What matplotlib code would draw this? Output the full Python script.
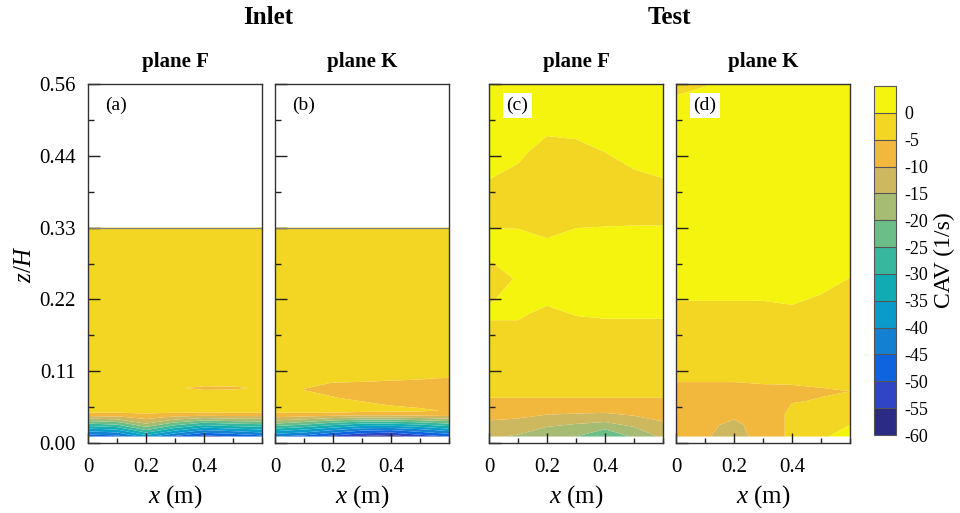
import matplotlib
matplotlib.use('Agg')
import matplotlib.pyplot as plt
import numpy as np
from matplotlib.ticker import FixedLocator, MultipleLocator, FuncFormatter

plt.rcParams['font.family'] = ['Liberation Serif', 'DejaVu Serif']
plt.rcParams['mathtext.fontset'] = 'custom'
plt.rcParams['mathtext.rm'] = 'Liberation Serif'
plt.rcParams['mathtext.it'] = 'Liberation Serif:italic'

# CAV levels (1/s) and band colours
levels = [-60, -55, -50, -45, -40, -35, -30, -25, -20, -15, -10, -5, 0, 5]
band_colors = ['#2B2B85', '#2F45C5', '#0E63DE', '#1480D2', '#0A9BCB', '#10ABB3',
               '#37B89E', '#6CBE89', '#A5BC72', '#CDB860', '#F2B83E', '#F3D523',
               '#F4F40E']

x_pts = [0, 0.1, 0.2, 0.3, 0.4, 0.5, 0.6]

# (a) Inlet, plane F
z_a = [0.01, 0.02, 0.03, 0.04, 0.045, 0.05, 0.075, 0.085, 0.095, 0.2, 1 / 3]
cav_a = [
    [-48, -47, -38, -46, -52, -50, -47],
    [-38, -36, -25, -34, -40, -38, -36],
    [-25, -23, -15, -22, -27, -25, -24],
    [-12, -11, -8, -11, -13, -12, -12],
    [-6, -6, -5.2, -6, -6, -6, -6],
    [-3.5, -3.5, -3.5, -3.5, -3.5, -3.5, -3.5],
    [-3, -3, -3, -3, -3, -3, -3],
    [-3, -3, -3, -4.6, -5.8, -5.6, -4.5],
    [-3, -3, -3, -3, -3, -3, -3],
    [-2.5, -2.5, -2.5, -2.5, -2.5, -2.5, -2.5],
    [-2.5, -2.5, -2.5, -2.5, -2.5, -2.5, -2.5],
]

# (b) Inlet, plane K
z_b = [0.01, 0.02, 0.03, 0.04, 0.045, 0.05, 0.06, 0.07, 0.083, 0.093, 0.1, 0.11,
       0.2, 1 / 3]
cav_b = [
    [-45, -47, -52, -56, -58, -53, -50],
    [-33, -36, -40, -44, -45, -42, -38],
    [-20, -23, -27, -30, -30, -28, -25],
    [-10, -11, -13, -14, -14, -13, -12],
    [-6, -6, -6, -7, -7, -6.5, -6.5],
    [-3.5, -3.5, -3.5, -3.8, -4.2, -4.6, -5.2],
    [-3.5, -3.5, -4, -4.6, -5.2, -5.6, -6],
    [-3.5, -4, -4.9, -5.5, -5.8, -6, -6],
    [-3.5, -5.1, -5.6, -5.8, -6, -6, -6],
    [-3, -4, -5.1, -5.3, -5.5, -5.6, -5.6],
    [-3, -3, -3.5, -4, -4.5, -4.8, -5.2],
    [-3, -3, -3, -3, -3, -3, -3],
    [-2.5, -2.5, -2.5, -2.5, -2.5, -2.5, -2.5],
    [-2.5, -2.5, -2.5, -2.5, -2.5, -2.5, -2.5],
]

# (c) Test, plane F
z_c = [0.01, 0.025, 0.04, 0.06, 0.08, 0.12, 0.18, 0.2, 0.22, 0.254, 0.28, 0.31,
       0.34, 0.37, 0.41, 0.45, 0.5, 5 / 9]
cav_c = [
    [-14.5, -15.5, -17, -20, -26, -19, -14],
    [-12, -13, -15, -16.5, -18, -15, -12],
    [-9, -9.5, -11, -11.5, -12, -10.5, -8.5],
    [-6, -6, -6, -6, -6, -6, -6],
    [-4, -4, -4, -4, -4, -4, -4],
    [-2.5, -2.5, -2.5, -2.5, -2.5, -2.5, -2.5],
    [-0.5, -0.5, -1.5, -1, -0.8, -0.8, -0.8],
    [0.5, 0.5, -0.8, 0.2, 0.5, 0.5, 0.5],
    [-0.2, 1, 0.5, 1.5, 1.5, 1.5, 1.5],
    [-1.5, 0.3, 2, 2, 2, 2, 2],
    [-0.2, 1.5, 2, 2, 2, 2, 2],
    [1.5, 1.5, 0.3, 1.5, 1.5, 1.5, 1.5],
    [-0.5, -0.6, -1, -0.5, -0.3, -0.2, -0.2],
    [-2, -2, -2.5, -2.5, -2, -2, -2],
    [0.1, -1, -2, -2, -1.5, -0.5, 0.0],
    [1.5, 0.8, -1.5, -1, 0.0, 1, 1.5],
    [1.5, 1.5, 1.5, 1.5, 1.5, 1.5, 1.5],
    [2, 2, 2, 2, 2, 2, 2],
]

# (d) Test, plane K
z_d = [0.01, 0.028, 0.045, 0.065, 0.08, 0.1, 0.14, 0.2, 0.26, 0.3, 0.52, 5 / 9]
cav_d = [
    [-8, -9.5, -12, -8, -4, -0.5, 1.5],
    [-8, -9, -11, -8, -4, -2, 0],
    [-8, -8, -9, -8, -4, -3, -2],
    [-7, -7, -7, -7, -5.2, -4.8, -4.8],
    [-5.5, -5.5, -5.5, -5.5, -5.5, -5.3, -5.0],
    [-4.8, -4.8, -4.8, -4.6, -4.5, -4.2, -3.8],
    [-2.5, -2.5, -2.5, -2.5, -2.5, -2.5, -2.5],
    [-0.5, -0.5, -0.5, -0.5, -0.3, -0.8, -1.5],
    [1, 1, 1, 1, 1, 0.8, 0.1],
    [1.5, 1.5, 1.5, 1.5, 1.5, 1.5, 2],
    [0.5, 1.5, 2, 2, 2, 2, 2],
    [-0.5, -0.2, 1.5, 2, 2, 2, 2],
]

panels = [
    ('(a)', 'plane F', z_a, cav_a, True),
    ('(b)', 'plane K', z_b, cav_b, True),
    ('(c)', 'plane F', z_c, cav_c, False),
    ('(d)', 'plane K', z_d, cav_d, False),
]

y_ticks = [0, 1 / 9, 2 / 9, 3 / 9, 4 / 9, 5 / 9]
y_minor = [1 / 18, 3 / 18, 5 / 18, 7 / 18, 9 / 18]

fig = plt.figure(figsize=(9.6, 5.13), dpi=100)
lefts = [88, 275, 489, 676]

for i, (tag, plane, zz, vals, inlet) in enumerate(panels):
    ax = fig.add_axes([lefts[i] / 960, 1 - 443 / 513, 174 / 960, 359 / 513])
    cs = ax.contourf(x_pts, zz, np.array(vals), levels=levels, colors=band_colors,
                     antialiased=True)
    if inlet:
        ax.axhline(zz[-1], color='#808080', lw=0.9)
    ax.set_xlim(0, 0.6)
    ax.set_ylim(0, 5 / 9)
    ax.xaxis.set_major_locator(FixedLocator([0, 0.2, 0.4]))
    ax.xaxis.set_minor_locator(MultipleLocator(0.1))
    ax.xaxis.set_major_formatter(FuncFormatter(lambda v, p: '%g' % round(v, 2)))
    ax.yaxis.set_major_locator(FixedLocator(y_ticks))
    ax.yaxis.set_minor_locator(FixedLocator(y_minor))
    ax.tick_params(axis='both', which='both', direction='in', color='#222222',
                   labelsize=15, width=1)
    ax.tick_params(axis='y', which='major', length=8.5, pad=9)
    ax.tick_params(axis='y', which='minor', length=4.5)
    ax.tick_params(axis='x', which='major', length=7, pad=11)
    ax.tick_params(axis='x', which='minor', length=3.5)
    for s in ax.spines.values():
        s.set_color('#333333')
        s.set_linewidth(1)
    if i == 0:
        ax.yaxis.set_major_formatter(FuncFormatter(lambda v, p: '%.2f' % v))
        ax.set_ylabel('$z/H$', fontsize=18, labelpad=2)
    else:
        ax.set_yticklabels([])
    ax.set_xlabel('$x$ (m)', fontsize=18, labelpad=4)
    ax.set_title(plane, fontsize=15, fontweight='bold', pad=12)
    ax.text(0.1, 0.94, tag, transform=ax.transAxes, fontsize=14, va='center',
            ha='left', bbox=dict(facecolor='white', edgecolor='none', pad=2.5))

fig.text(268.5 / 960, 1 - 18 / 513, 'Inlet', fontsize=18, fontweight='bold',
         ha='center', va='center')
fig.text(669.5 / 960, 1 - 18 / 513, 'Test', fontsize=18, fontweight='bold',
         ha='center', va='center')

cax = fig.add_axes([874 / 960, 1 - 435 / 513, 22 / 960, 349 / 513])
cb = fig.colorbar(cs, cax=cax, ticks=levels[:-1], drawedges=True)
cb.dividers.set_color('#555555')
cb.dividers.set_linewidth(0.8)
cb.outline.set_edgecolor('#555555')
cb.outline.set_linewidth(0.8)
cb.set_ticklabels([str(v) for v in levels[:-1]])
cb.ax.tick_params(length=0, labelsize=13, pad=6)
cb.set_label('CAV (1/s)', fontsize=17, labelpad=4)

fig.savefig('out.png', dpi=100)
